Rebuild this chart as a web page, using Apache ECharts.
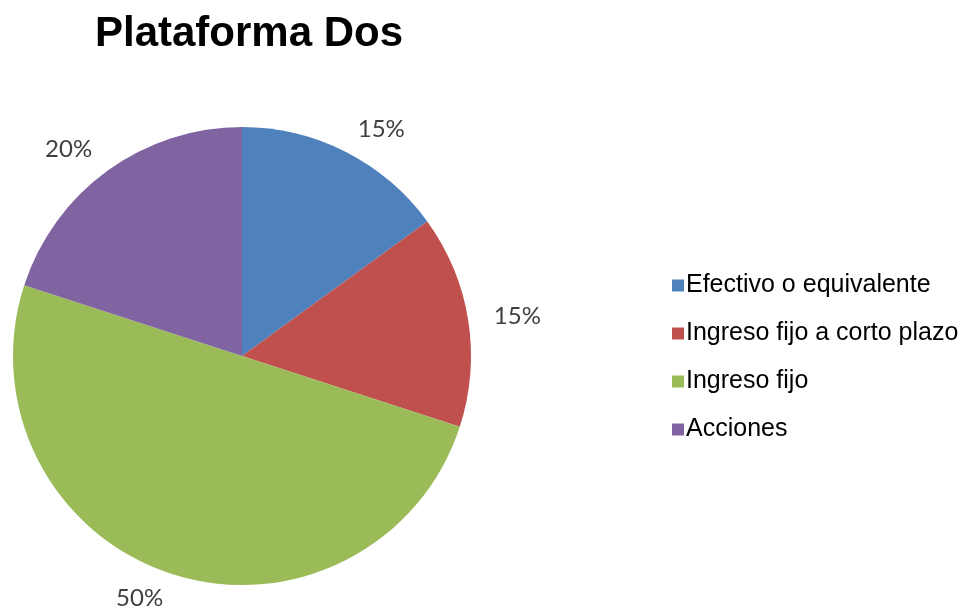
<!DOCTYPE html>
<html>
<head>
<meta charset="utf-8">
<script src="https://cdn.jsdelivr.net/npm/echarts@6/dist/echarts.min.js"></script>
<style>
  html, body { margin: 0; padding: 0; background: #fff; }
  #chart { width: 969px; height: 615px; }
</style>
</head>
<body>
<div id="chart"></div>
<script>
// Distribución de la cartera
const categories = ['Efectivo o equivalente', 'Ingreso fijo a corto plazo', 'Ingreso fijo', 'Acciones'];
const values = [15, 15, 50, 20];
const colors = ['#4F81BD', '#C0504D', '#9BBB59', '#8064A2'];

const chart = echarts.init(document.getElementById('chart'));

const pieData = categories.map((name, i) => ({
  name: name,
  value: values[i],
  itemStyle: { color: colors[i] }
}));

chart.setOption({
  animation: false,
  title: {
    text: 'Plataforma Dos',
    left: 244,
    top: 8,
    textAlign: 'center',
    textStyle: {
      fontFamily: 'Liberation Sans, Arial, sans-serif',
      fontWeight: 'bold',
      fontSize: 42,
      color: '#000'
    }
  },
  legend: {
    orient: 'vertical',
    left: 667,
    top: 268,
    itemWidth: 12,
    itemHeight: 12,
    itemGap: 23,
    icon: 'rect',
    data: categories,
    textStyle: {
      fontFamily: 'Liberation Sans, Arial, sans-serif',
      fontSize: 25,
      color: '#000',
      padding: [0, 0, 0, -3]
    }
  },
  series: [
    {
      type: 'pie',
      center: [242, 356],
      radius: [0, 229],
      startAngle: 90,
      clockwise: true,
      avoidLabelOverlap: false,
      label: {
        show: true,
        position: 'outside',
        formatter: '{c}%',
        distanceToLabelLine: 0,
        fontFamily: 'Lato, sans-serif',
        fontSize: 24,
        color: '#404040'
      },
      labelLine: { show: false, length: 26, length2: 0 },
      emphasis: { disabled: true },
      data: pieData
    }
  ]
});
</script>
</body>
</html>
